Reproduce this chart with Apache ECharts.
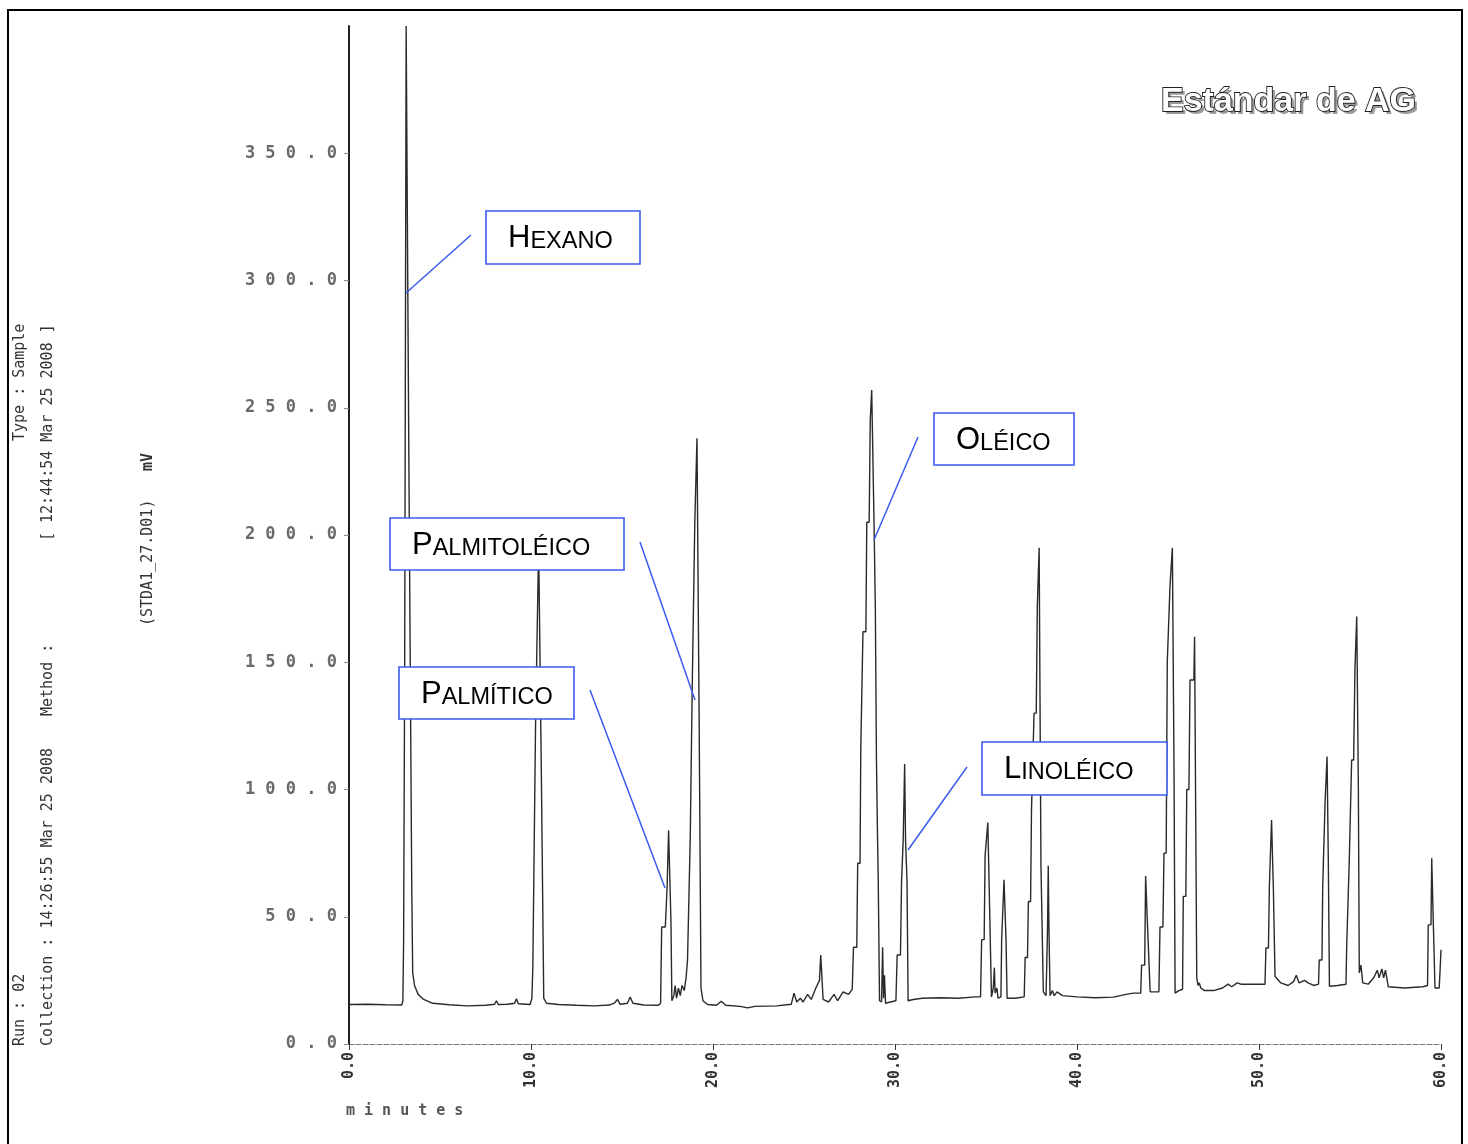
<!DOCTYPE html>
<html>
<head>
<meta charset="utf-8">
<script src="https://cdn.jsdelivr.net/npm/echarts@6/dist/echarts.min.js"></script>
<style>
  html, body { margin: 0; padding: 0; background: #fff; }
  #chart { width: 1468px; height: 1144px; }
</style>
</head>
<body>
<div id="chart"></div>
<script>
// ---- Data: [retention time (min), signal (mV)] ----
const hexaneRegion = [
  [0.0, 15.5], [1.0, 15.6], [2.0, 15.4], [2.9, 15.3], [2.96, 17], [3.0, 40], [3.06, 150],
  [3.14, 400], [3.24, 400], [3.3, 218], [3.4, 218], [3.45, 60], [3.5, 28], [3.6, 23],
  [3.8, 19.5], [4.1, 17.5], [4.6, 16], [5.5, 15.4], [6.5, 15.0], [7.5, 15.2], [8.0, 15.6],
  [8.1, 17], [8.2, 15.5], [8.7, 15.6], [9.1, 16], [9.2, 17.8], [9.3, 15.8], [9.95, 15.5]
];
const earlyRegion = [
  [10.05, 18], [10.1, 30], [10.2, 30], [10.25, 125], [10.35, 125], [10.42, 196], [10.5, 196],
  [10.56, 112], [10.64, 112], [10.7, 18], [10.85, 16], [11.5, 15.5], [12.5, 15.2], [13.5, 15.0],
  [14.3, 15.3], [14.6, 16.2], [14.75, 17.5], [14.9, 15.6], [15.3, 16], [15.45, 18.5], [15.6, 16],
  [16.2, 15.3], [17.0, 15.2]
];
const c16Region = [
  [17.12, 16], [17.18, 46], [17.38, 46], [17.48, 62], [17.56, 84], [17.64, 84], [17.69, 48],
  [17.74, 17], [17.85, 19], [17.92, 23], [18.0, 18], [18.1, 22], [18.2, 19], [18.3, 23],
  [18.42, 21], [18.52, 26], [18.6, 33], [18.7, 33], [18.75, 81], [18.82, 81], [18.86, 141],
  [18.96, 141], [19.0, 205], [19.08, 205], [19.12, 238], [19.2, 238], [19.24, 126], [19.3, 126],
  [19.34, 22], [19.45, 17], [19.7, 15.5]
];
const midRegion = [
  [20.2, 15.2], [20.45, 16.8], [20.7, 15.2], [21.5, 14.8], [21.9, 14.2], [22.3, 14.8], [23.5, 15.0],
  [24.3, 15.6], [24.45, 20], [24.6, 16.5], [24.8, 18], [24.95, 16.5], [25.2, 19.5], [25.4, 17.5],
  [25.65, 22], [25.85, 25], [25.92, 35], [26.0, 35], [26.05, 17.5], [26.35, 16.5], [26.65, 19.5],
  [26.85, 17], [27.15, 20.5], [27.45, 19.5], [27.65, 21.5]
];
const c18Region = [
  [27.72, 38], [27.9, 38], [27.95, 71], [28.08, 71], [28.12, 116], [28.2, 116], [28.24, 162],
  [28.4, 162], [28.45, 205], [28.58, 205], [28.64, 245], [28.72, 257], [28.8, 257], [28.85, 204],
  [28.92, 171], [28.98, 112], [29.03, 86], [29.08, 64], [29.15, 17], [29.26, 16.5], [29.32, 38],
  [29.37, 18], [29.42, 27], [29.48, 16], [29.75, 16.5], [30.05, 17], [30.12, 35], [30.3, 35],
  [30.36, 64], [30.45, 80], [30.53, 110], [30.58, 80], [30.66, 64], [30.72, 17], [31.0, 17.5],
  [31.5, 18], [32.5, 18.2], [33.5, 18], [34.4, 18.5]
];
const lateRegionA = [
  [34.7, 18.5], [34.76, 41], [34.9, 41], [34.95, 74], [35.05, 74], [35.1, 87], [35.16, 87],
  [35.2, 53], [35.26, 53], [35.3, 18.5], [35.4, 22], [35.46, 30], [35.5, 20], [35.6, 22],
  [35.66, 18], [35.82, 18.5], [35.86, 41], [35.94, 41], [35.99, 64.5], [36.05, 64.5], [36.1, 41],
  [36.16, 18], [36.6, 18], [37.1, 18.5], [37.15, 34], [37.28, 34], [37.33, 56], [37.45, 56],
  [37.5, 92], [37.6, 92], [37.64, 130], [37.76, 130], [37.82, 172], [37.88, 172], [37.92, 195],
  [37.98, 195], [38.02, 70], [38.1, 70], [38.15, 20.5], [38.3, 19], [38.38, 45], [38.42, 70],
  [38.46, 45], [38.52, 19], [38.65, 21], [38.75, 19], [38.9, 20.5], [39.2, 19], [40.0, 18.5],
  [41.0, 18.2], [42.0, 18.4], [42.7, 19.5], [43.1, 20], [43.5, 20], [43.55, 31], [43.72, 31],
  [43.77, 66], [43.83, 66], [43.9, 42], [43.96, 42], [44.02, 20.5]
];
const lateRegionB = [
  [44.5, 20.5], [44.56, 46], [44.72, 46], [44.78, 75], [44.9, 75], [44.96, 150], [45.06, 150],
  [45.11, 180], [45.2, 180], [45.24, 195], [45.3, 195], [45.33, 109], [45.36, 109], [45.39, 20],
  [45.6, 21], [45.8, 21.5], [45.84, 58], [45.98, 58], [46.03, 100], [46.15, 100], [46.21, 143],
  [46.42, 143], [46.46, 160], [46.53, 160], [46.58, 26], [46.65, 23], [46.72, 24], [46.8, 22],
  [47.0, 21], [47.5, 21], [48.0, 22], [48.3, 23.5], [48.5, 22.5], [48.8, 24], [49.0, 23.5],
  [49.5, 23.5], [50.0, 23.5], [50.33, 23.5], [50.38, 37.7], [50.52, 37.7], [50.57, 62], [50.65, 62],
  [50.69, 88], [50.75, 88], [50.79, 61], [50.84, 61], [50.88, 26.6], [51.2, 24], [51.6, 23],
  [51.9, 24.5], [52.05, 27], [52.2, 24], [52.5, 25], [52.7, 24], [53.0, 23], [53.27, 23.5],
  [53.31, 33], [53.46, 33], [53.5, 61.5], [53.6, 61.5], [53.63, 95], [53.7, 95], [53.74, 113],
  [53.78, 113], [53.81, 71], [53.84, 71], [53.87, 22.7], [54.3, 23], [54.78, 23.5], [54.82, 39],
  [54.92, 39], [54.96, 72], [55.05, 72], [55.09, 111.6], [55.2, 111.6], [55.27, 147], [55.33, 147],
  [55.37, 168], [55.43, 168], [55.46, 100], [55.51, 28], [55.6, 31], [55.7, 24], [56.0, 23.5],
  [56.3, 26], [56.5, 29], [56.6, 26], [56.75, 29.5], [56.85, 26], [56.95, 29], [57.1, 22.5],
  [58.0, 22], [59.0, 22.5], [59.26, 23], [59.3, 46.8], [59.45, 46.8], [59.49, 73], [59.55, 73],
  [59.58, 47], [59.64, 47], [59.67, 22], [59.9, 22], [59.95, 29], [60.0, 37]
];

const signal = [].concat(hexaneRegion, earlyRegion, c16Region, midRegion, c18Region, lateRegionA, lateRegionB);

const headerTexts = {
  run: 'Run : 02',
  type: 'Type : Sample',
  collection: 'Collection : 14:26:55 Mar 25 2008',
  method: 'Method :',
  stamp: '[ 12:44:54 Mar 25 2008 ]',
  file: '(STDA1_27.D01)',
  unit: 'mV'
};
const peakLabels = [
  { big: 'H', rest: 'EXANO' },
  { big: 'P', rest: 'ALMITOLÉICO' },
  { big: 'P', rest: 'ALMÍTICO' },
  { big: 'O', rest: 'LÉICO' },
  { big: 'L', rest: 'INOLÉICO' }
];
const chartTitle = 'Estándar de AG';
const xAxisName = 'minutes';

// ---- Chart ----
const chart = echarts.init(document.getElementById('chart'), null, { renderer: 'canvas' });

const MONO = '"DejaVu Sans Mono", monospace';
const SANS = '"Liberation Sans", Arial, sans-serif';

function vText(x, y, text, font) {
  return {
    type: 'text', x: x, y: y, rotation: Math.PI / 2, z: 100, silent: true,
    style: {
      text: text, font: font || ('15px ' + MONO), fill: '#333',
      align: 'left', verticalAlign: 'middle', textAlign: 'left', textVerticalAlign: 'middle'
    }
  };
}

function labelBox(rect, textX, lbl, lead) {
  return [
    {
      type: 'rect', z: 110, silent: true,
      shape: { x: rect[0], y: rect[1], width: rect[2], height: rect[3] },
      style: { fill: '#fff', stroke: '#3b5bef', lineWidth: 1.6 }
    },
    {
      type: 'text', z: 111, silent: true, x: textX, y: rect[1] + rect[3] / 2 + 1,
      style: {
        text: '{a|' + lbl.big + '}{b|' + lbl.rest + '}',
        align: 'left', verticalAlign: 'middle', textAlign: 'left', textVerticalAlign: 'middle',
        rich: {
          a: { font: '31px ' + SANS, fill: '#000', verticalAlign: 'bottom' },
          b: { font: '23.5px ' + SANS, fill: '#000', verticalAlign: 'bottom' }
        }
      }
    },
    {
      type: 'line', z: 110, silent: true,
      shape: { x1: lead[0], y1: lead[1], x2: lead[2], y2: lead[3] },
      style: { stroke: '#3b5bef', lineWidth: 1.5 }
    }
  ];
}

const graphics = [
  { type: 'rect', z: 120, silent: true, shape: { x: 8, y: 10, width: 1454, height: 1170 },
    style: { fill: null, stroke: '#000', lineWidth: 2 } },
  vText(20, 1046, headerTexts.run),
  vText(20, 441, headerTexts.type),
  vText(48, 1046, headerTexts.collection),
  vText(48, 716, headerTexts.method),
  vText(48, 541, headerTexts.stamp),
  vText(148, 626, headerTexts.file),
  vText(148, 471, headerTexts.unit, 'bold 15px ' + MONO),
  { type: 'text', z: 100, silent: true, x: 346, y: 1111,
    style: { text: xAxisName.split('').join(' '), font: 'bold 15px ' + MONO, fill: '#555',
      align: 'left', verticalAlign: 'middle', textAlign: 'left', textVerticalAlign: 'middle' } },
  { type: 'text', z: 100, silent: true, x: 1164, y: 88,
    style: { text: chartTitle, font: 'bold 34px ' + SANS, fill: '#9a9a9a',
      align: 'left', verticalAlign: 'top', textAlign: 'left', textVerticalAlign: 'top' } },
  { type: 'text', z: 101, silent: true, x: 1161, y: 85,
    style: { text: chartTitle, font: 'bold 34px ' + SANS, fill: '#fff', stroke: '#222', lineWidth: 1.8,
      align: 'left', verticalAlign: 'top', textAlign: 'left', textVerticalAlign: 'top' } }
].concat(
  labelBox([486, 211, 154, 53], 508, peakLabels[0], [471, 235, 406, 293]),
  labelBox([390, 518, 234, 52], 412, peakLabels[1], [640, 542, 695, 700]),
  labelBox([399, 667, 175, 52], 421, peakLabels[2], [590, 690, 665, 888]),
  labelBox([934, 413, 140, 52], 956, peakLabels[3], [918, 437, 874, 540]),
  labelBox([982, 742, 185, 53], 1004, peakLabels[4], [967, 767, 908, 850])
);

const option = {
  animation: false,
  backgroundColor: '#ffffff',
  grid: { left: 349, right: 27, top: 26, bottom: 100, containLabel: false },
  xAxis: {
    type: 'value', min: 0, max: 60, interval: 10,
    axisLine: { show: true, onZero: false, lineStyle: { color: '#777', width: 1, type: [5, 2] } },
    axisTick: { show: true, length: 6, lineStyle: { color: '#333' } },
    splitLine: { show: false },
    axisLabel: {
      rotate: 90, margin: 8, fontFamily: MONO, fontWeight: 'bold', fontSize: 15, color: '#333',
      formatter: function (v) { return v.toFixed(1); }
    }
  },
  yAxis: {
    type: 'value', min: 0, max: 400, interval: 50,
    axisLine: { show: true, lineStyle: { color: '#222', width: 2 } },
    axisTick: { show: true, length: 5, lineStyle: { color: '#888' } },
    splitLine: { show: false },
    axisLabel: {
      margin: 12, showMaxLabel: false, fontFamily: MONO, fontWeight: 'bold', fontSize: 17, color: '#6a6a6a',
      formatter: function (v) { return v.toFixed(1).split('').join(' '); }
    }
  },
  series: [{
    type: 'line', data: signal, showSymbol: false, symbol: 'none',
    lineStyle: { color: '#2a2a2a', width: 1.4 }, z: 2
  }],
  graphic: graphics
};

chart.setOption(option);
</script>
</body>
</html>
